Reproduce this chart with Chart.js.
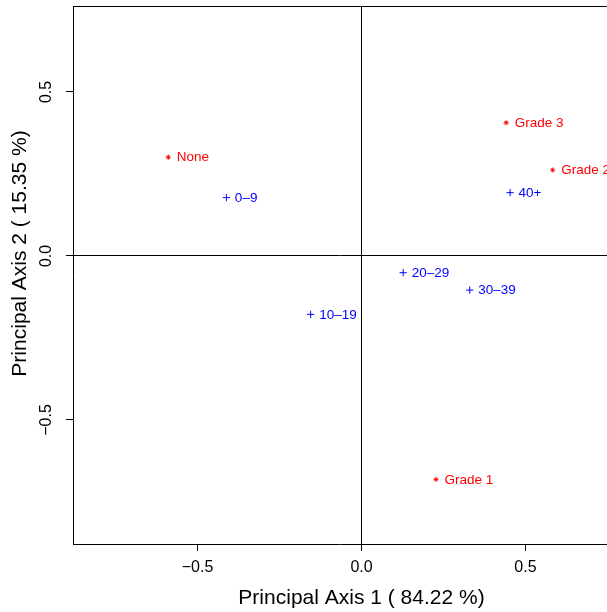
<!DOCTYPE html>
<html>
<head>
<meta charset="utf-8">
<script src="https://cdn.jsdelivr.net/npm/chart.js@4/dist/chart.umd.min.js"></script>
<style>
  html, body { margin: 0; padding: 0; background: #fff; }
  canvas { display: block; }
</style>
</head>
<body>
<canvas id="c" width="607" height="612"></canvas>
<script>
// ---- data ----
const ageLabels   = ['0–9', '10–19', '20–29', '30–39', '40+'];
const ageAxis1    = [-0.412, -0.155, 0.127, 0.330, 0.453];
const ageAxis2    = [0.178, -0.178, -0.051, -0.104, 0.193];

const gradeLabels = ['None', 'Grade 1', 'Grade 2', 'Grade 3'];
const gradeAxis1  = [-0.589, 0.227, 0.583, 0.441];
const gradeAxis2  = [0.301, -0.681, 0.262, 0.406];

const xTickValues = [-0.5, 0.0, 0.5];
const yTickValues = [-0.5, 0.0, 0.5];

const xTitle = 'Principal Axis 1 ( 84.22 %)';
const yTitle = 'Principal Axis 2 ( 15.35 %)';

// ---- chart ----
const FONT = "'Liberation Sans', Arial, Helvetica, sans-serif";
Chart.defaults.font.family = FONT;
Chart.defaults.color = '#000';

const fmt = v => (v < 0 ? '\u2212' : '') + Math.abs(v).toFixed(1);

const toPoints = (xs, ys) => xs.map((x, i) => ({ x: x, y: ys[i] }));

const labelPlugin = {
  id: 'pointLabels',
  afterDatasetsDraw(chart) {
    const ctx = chart.ctx;
    ctx.save();
    ctx.font = '13.5px ' + FONT;
    ctx.textAlign = 'left';
    ctx.textBaseline = 'middle';
    chart.data.datasets.forEach((ds, di) => {
      const meta = chart.getDatasetMeta(di);
      ctx.fillStyle = ds.borderColor;
      meta.data.forEach((el, i) => {
        ctx.fillText(ds.pointNames[i], el.x + 8.5, el.y + 0.5);
      });
    });
    ctx.restore();
  }
};

const framePlugin = {
  id: 'frame',
  afterDraw(chart) {
    const ctx = chart.ctx;
    const a = chart.chartArea;
    const ys = chart.scales.y;
    ctx.save();
    // top border of the box
    ctx.strokeStyle = '#000';
    ctx.lineWidth = 1;
    ctx.beginPath();
    ctx.moveTo(a.left, Math.round(a.top) + 0.5);
    ctx.lineTo(a.right, Math.round(a.top) + 0.5);
    ctx.stroke();
    // y tick labels, rotated (read bottom to top)
    ctx.fillStyle = '#000';
    ctx.font = '16px ' + FONT;
    ctx.textAlign = 'center';
    ctx.textBaseline = 'middle';
    ys.ticks.forEach(t => {
      const py = ys.getPixelForValue(t.value);
      ctx.save();
      ctx.translate(47, py);
      ctx.rotate(-Math.PI / 2);
      ctx.fillText(fmt(t.value), 0, 0);
      ctx.restore();
    });
    // axis titles
    ctx.font = '21px ' + FONT;
    ctx.fillText(xTitle, 361.5, 598);
    ctx.save();
    ctx.translate(20, 253.5);
    ctx.rotate(-Math.PI / 2);
    ctx.fillText(yTitle, 0, 0);
    ctx.restore();
    ctx.restore();
  }
};

const gridColor = c => (c.tick && c.tick.value === 0) ? '#000' : 'rgba(0,0,0,0)';

new Chart(document.getElementById('c'), {
  type: 'scatter',
  data: {
    datasets: [
      {
        label: 'Age',
        data: toPoints(ageAxis1, ageAxis2),
        pointNames: ageLabels,
        pointStyle: 'cross',
        pointRadius: 3.6,
        borderWidth: 1,
        borderColor: '#0000ff',
        backgroundColor: '#0000ff'
      },
      {
        label: 'Grade',
        data: toPoints(gradeAxis1, gradeAxis2),
        pointNames: gradeLabels,
        pointStyle: 'star',
        pointRadius: 2.5,
        borderWidth: 1,
        borderColor: '#ff0000',
        backgroundColor: '#ff0000'
      }
    ]
  },
  options: {
    responsive: false,
    devicePixelRatio: 1,
    animation: false,
    events: [],
    layout: { autoPadding: false, padding: { top: 6, right: 0, left: 0, bottom: 0 } },
    plugins: {
      legend: { display: false },
      tooltip: { enabled: false },
      title: { display: false }
    },
    scales: {
      x: {
        type: 'linear',
        min: -0.8796,
        max: 0.7485,
        afterBuildTicks: s => { s.ticks = xTickValues.map(v => ({ value: v })); },
        afterFit: s => { s.height = 68; s.paddingLeft = 0; s.paddingRight = 0; },
        grid: {
          offset: false,
          drawOnChartArea: true,
          drawTicks: true,
          tickLength: 7,
          tickColor: '#000',
          color: gridColor,
          lineWidth: 1
        },
        border: { display: true, color: '#000', width: 1 },
        ticks: {
          autoSkip: false,
          maxRotation: 0,
          padding: 7,
          color: '#000',
          font: { size: 16, family: FONT },
          callback: v => fmt(v)
        },
        title: { display: false }
      },
      y: {
        type: 'linear',
        min: -0.878,
        max: 0.762,
        afterBuildTicks: s => { s.ticks = yTickValues.map(v => ({ value: v })); },
        afterFit: s => { s.width = 73; s.paddingTop = 0; s.paddingBottom = 0; },
        grid: {
          offset: false,
          drawOnChartArea: true,
          drawTicks: true,
          tickLength: 7,
          tickColor: '#000',
          color: gridColor,
          lineWidth: 1
        },
        border: { display: true, color: '#000', width: 1 },
        ticks: { display: false },
        title: { display: false }
      }
    }
  },
  plugins: [labelPlugin, framePlugin]
});
</script>
</body>
</html>
